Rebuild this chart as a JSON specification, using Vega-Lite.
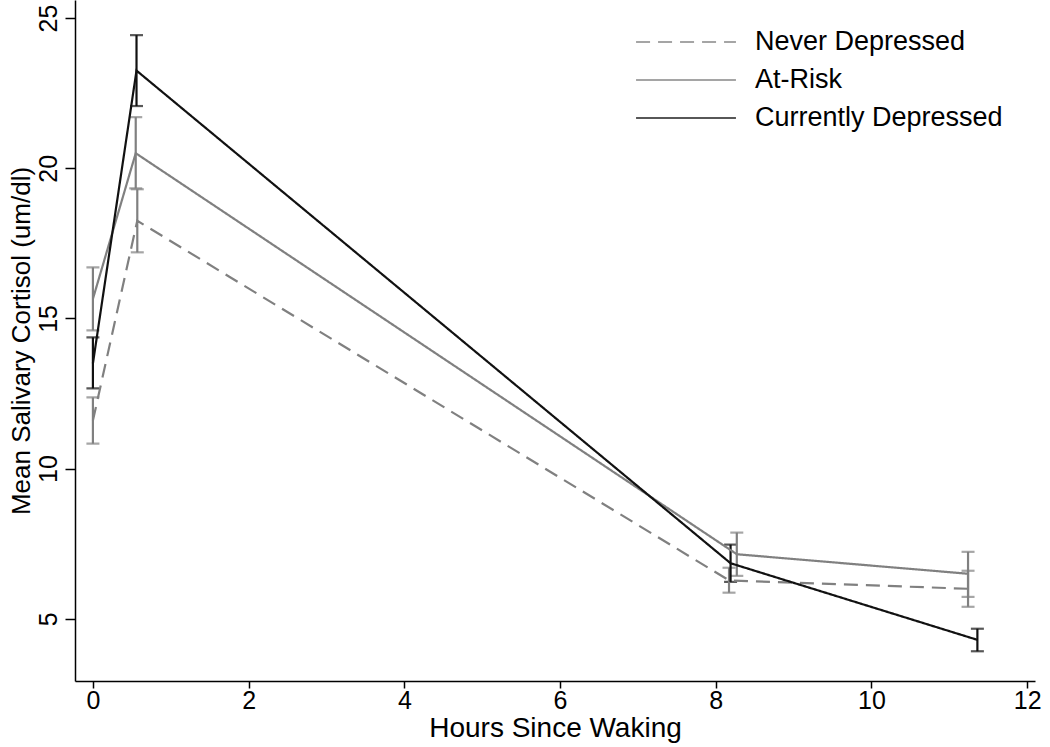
{
  "$schema": "https://vega.github.io/schema/vega-lite/v6.json",
  "width": 960,
  "height": 681,
  "autosize": {"type": "none"},
  "padding": {"left": 75, "top": 0, "right": 15, "bottom": 66},
  "background": "white",
  "data": {
    "values": [
      {"group": "Never Depressed", "hours": 0.0, "mean": 11.6, "lo": 10.83, "hi": 12.37},
      {"group": "Never Depressed", "hours": 0.57, "mean": 18.25, "lo": 17.2, "hi": 19.3},
      {"group": "Never Depressed", "hours": 8.17, "mean": 6.28, "lo": 5.87, "hi": 6.7},
      {"group": "Never Depressed", "hours": 11.24, "mean": 6.0, "lo": 5.4, "hi": 6.6},
      {"group": "At-Risk", "hours": 0.0, "mean": 15.65, "lo": 14.6, "hi": 16.7},
      {"group": "At-Risk", "hours": 0.55, "mean": 20.5, "lo": 19.33, "hi": 21.7},
      {"group": "At-Risk", "hours": 8.27, "mean": 7.15, "lo": 6.43, "hi": 7.87},
      {"group": "At-Risk", "hours": 11.24, "mean": 6.5, "lo": 5.73, "hi": 7.23},
      {"group": "Currently Depressed", "hours": 0.0, "mean": 13.5, "lo": 12.67, "hi": 14.37},
      {"group": "Currently Depressed", "hours": 0.56, "mean": 23.25, "lo": 22.07, "hi": 24.43},
      {"group": "Currently Depressed", "hours": 8.19, "mean": 6.85, "lo": 6.23, "hi": 7.47},
      {"group": "Currently Depressed", "hours": 11.36, "mean": 4.3, "lo": 3.92, "hi": 4.67}
    ]
  },
  "layer": [
    {
      "mark": {"type": "errorbar", "ticks": {"size": 13}, "thickness": 2.2},
      "encoding": {
        "x": {"field": "hours", "type": "quantitative", "title": "Hours Since Waking", "scale": {"domain": [-0.23, 12.1], "nice": false, "zero": false}, "axis": {"values": [0, 2, 4, 6, 8, 10, 12], "format": "d", "labelPadding": 0, "titlePadding": 1, "tickSize": 7, "titleFontSize": 28}},
        "y": {"field": "lo", "type": "quantitative", "title": "Mean Salivary Cortisol (um/dl)", "scale": {"domain": [2.93, 25.6], "nice": false, "zero": false}, "axis": {"values": [5, 10, 15, 20, 25], "format": "d", "labelAngle": -90, "labelAlign": "center", "labelBaseline": "bottom", "labelPadding": 4, "titlePadding": 2, "tickSize": 10}},
        "y2": {"field": "hi"},
        "color": {"field": "group", "type": "nominal", "sort": ["Never Depressed", "At-Risk", "Currently Depressed"], "title": null, "scale": {"domain": ["Never Depressed", "At-Risk", "Currently Depressed"], "range": ["#808080", "#808080", "#111111"]}}
      }
    },
    {
      "mark": {"type": "line", "strokeWidth": 2.2},
      "encoding": {
        "x": {"field": "hours", "type": "quantitative", "title": "Hours Since Waking"},
        "y": {"field": "mean", "type": "quantitative", "title": "Mean Salivary Cortisol (um/dl)"},
        "color": {"field": "group", "type": "nominal", "sort": ["Never Depressed", "At-Risk", "Currently Depressed"], "title": null, "scale": {"domain": ["Never Depressed", "At-Risk", "Currently Depressed"], "range": ["#808080", "#808080", "#111111"]}},
        "strokeDash": {"field": "group", "type": "nominal", "sort": ["Never Depressed", "At-Risk", "Currently Depressed"], "title": null, "scale": {"domain": ["Never Depressed", "At-Risk", "Currently Depressed"], "range": [[14, 8], [1, 0], [1, 0]]}}
      }
    }
  ],
  "config": {
    "view": {"stroke": null},
    "font": "Liberation Sans",
    "axis": {"grid": false, "domainColor": "#000", "domainWidth": 1.5, "tickColor": "#000", "tickWidth": 1.5, "labelFontSize": 25, "titleFontSize": 26, "labelColor": "#000", "titleColor": "#000", "titleFontWeight": "normal", "labelFont": "Liberation Sans", "titleFont": "Liberation Sans"},
    "legend": {"orient": "none", "legendX": 591, "legendY": 22, "symbolType": "M -2.7 0 L 2.7 0", "symbolSize": 1369, "symbolStrokeWidth": 2.2, "labelFontSize": 27, "labelLimit": 500, "labelFont": "Liberation Sans", "labelColor": "#000", "labelOffset": 49, "rowPadding": 5}
  }
}
